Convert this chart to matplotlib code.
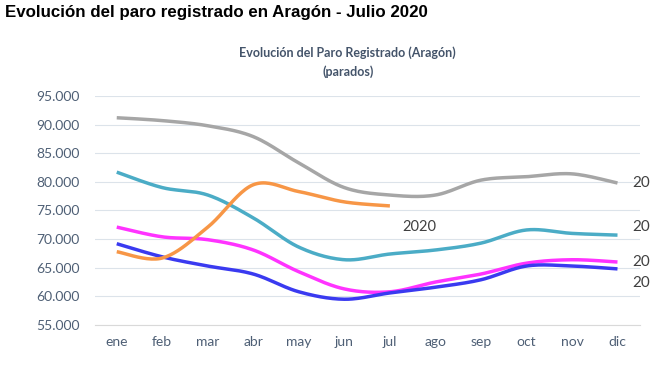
import numpy as np
import matplotlib
matplotlib.use("Agg")
import matplotlib.pyplot as plt

meses = ["ene", "feb", "mar", "abr", "may", "jun", "jul", "ago", "sep", "oct", "nov", "dic"]
y_ticks = [55000, 60000, 65000, 70000, 75000, 80000, 85000, 90000, 95000]

serie_gris = [91200, 90700, 89800, 87900, 83300, 79000, 77700, 77700, 80300, 80900, 81400, 79800]
serie_turquesa = [81700, 79000, 77700, 73700, 68600, 66400, 67400, 68100, 69300, 71600, 71000, 70700]
serie_rosa = [72100, 70400, 69900, 68100, 64300, 61300, 60800, 62500, 63900, 65800, 66400, 66000]
serie_azul = [69200, 66900, 65300, 63900, 60800, 59500, 60600, 61600, 62900, 65300, 65300, 64800]
serie_2020 = [67800, 66700, 72100, 79500, 78300, 76500, 75800]

etiquetas_fin = ["20", "20", "20", "20"]
etiqueta_2020 = "2020"


def suavizar(vals, n=24):
    p = np.asarray(vals, dtype=float)
    x = np.arange(len(p), dtype=float)
    pts = np.column_stack([x, p])
    out = [pts[0]]
    for i in range(len(pts) - 1):
        p0 = pts[i - 1] if i > 0 else pts[i]
        p1 = pts[i]
        p2 = pts[i + 1]
        p3 = pts[i + 2] if i + 2 < len(pts) else pts[i + 1]
        c1 = p1 + (p2 - p0) / 6.0
        c2 = p2 - (p3 - p1) / 6.0
        t = np.linspace(0, 1, n)[1:, None]
        b = ((1 - t) ** 3) * p1 + 3 * ((1 - t) ** 2) * t * c1 + 3 * (1 - t) * t ** 2 * c2 + t ** 3 * p2
        out.extend(b)
    out = np.array(out)
    return out[:, 0], out[:, 1]


fig = plt.figure(figsize=(6.5, 3.65), dpi=100)
ax = fig.add_axes([0.146, 0.1096, 0.839, 0.6274])

tick_color = "#4E5F75"
series = [
    (serie_gris, "#A6A6A6"),
    (serie_turquesa, "#4BACC6"),
    (serie_rosa, "#FF33FF"),
    (serie_azul, "#3A3AF0"),
    (serie_2020, "#F79646"),
]
for vals, col in series:
    xs, ys = suavizar(vals)
    ax.plot(xs, ys, color=col, lw=2.5, solid_capstyle="butt", zorder=3)

ax.set_xlim(-0.48, 11.5)
ax.set_ylim(55000, 95000)
ax.set_yticks(y_ticks)
ax.set_yticklabels([f"{v:,.0f}".replace(",", ".") for v in y_ticks])
ax.set_xticks(range(len(meses)))
ax.set_xticklabels(meses)
for s in ["top", "right", "left"]:
    ax.spines[s].set_visible(False)
ax.spines["bottom"].set_color("#D9D9D9")
ax.spines["bottom"].set_linewidth(0.8)
ax.grid(axis="y", color="#DCE3EA", lw=0.8, zorder=0)
ax.tick_params(axis="both", length=0, colors=tick_color, labelsize=10)
ax.tick_params(axis="y", pad=11)
ax.tick_params(axis="x", pad=8)
for lbl in ax.get_xticklabels() + ax.get_yticklabels():
    lbl.set_family("Lato")

ypos_fin = [79800, 72200, 66000, 62300]
for yv, txt in zip(ypos_fin, etiquetas_fin):
    ax.text(11.32, yv, txt, fontsize=11, color="#404040", family="Lato",
            va="center", ha="left", clip_on=False)
ax.text(6.28, 72200, etiqueta_2020, fontsize=10.5, color="#404040", family="Lato",
        va="center", ha="left")

fig.text(0.008, 0.965, "Evolución del paro registrado en Aragón - Julio 2020",
         fontsize=12.2, fontweight="bold", family="Liberation Sans", color="#000000",
         ha="left", va="center")
fig.text(0.535, 0.857, "Evolución del Paro Registrado (Aragón)", fontsize=9, fontweight="bold",
         family="Lato", color="#44546A", ha="center", va="center")
fig.text(0.535, 0.803, "(parados)", fontsize=9, fontweight="bold",
         family="Lato", color="#44546A", ha="center", va="center")

fig.savefig("out.png", dpi=100, facecolor="white")
